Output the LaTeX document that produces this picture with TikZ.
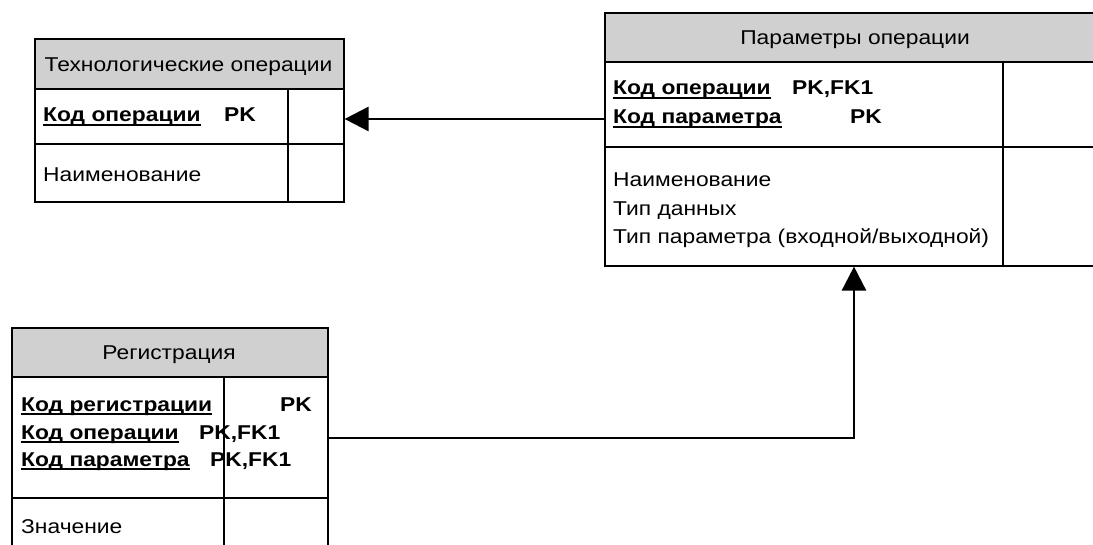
\documentclass[tikz,border=0pt]{standalone}
\usepackage{fontspec}
\setmainfont[FakeStretch=1.14]{Liberation Sans}
\usetikzlibrary{arrows.meta,calc}
\definecolor{hdr}{RGB}{208,208,208}
\newcommand\ulbf[1]{\setbox0\hbox{\bfseries #1}\rlap{\rule[-3.8pt]{\wd0}{2.2pt}}\box0}
\begin{document}
\begin{tikzpicture}[x=1pt,y=-1pt,
  tbl/.style={draw, line width=1.6pt, rectangle, inner sep=0pt, anchor=north west},
  grid/.style={line width=1.6pt},
  txt/.style={anchor=base west, inner sep=0pt, font=\fontsize{20}{24}\selectfont},
  htxt/.style={anchor=base, inner sep=0pt, font=\fontsize{20}{24}\selectfont},
  btxt/.style={txt, font=\fontsize{20}{24}\selectfont\bfseries},
  conn/.style={line width=2.7pt},
  tip/.style={-{Triangle[length=24pt,width=24pt]}},
]
\useasboundingbox (0,0) rectangle (1093,545);
% header fills
\fill[hdr] (34,38) rectangle (343,89);
\fill[hdr] (604,12) rectangle (1106,62);
\fill[hdr] (11,327) rectangle (327,377);
% tables
\node[tbl, minimum width=309pt, minimum height=163pt] (t1) at (34,38) {};
\node[tbl, minimum width=502pt, minimum height=253pt] (t2) at (604,12) {};
\node[tbl, minimum width=316pt, minimum height=240pt] (t3) at (11,327) {};
% internal lines
\draw[grid] (34,89) -- (343,89) (34,144) -- (343,144) (288,89) -- (288,201);
\draw[grid] (604,62) -- (1106,62) (604,147) -- (1106,147) (1003,62) -- (1003,265);
\draw[grid] (11,377) -- (327,377) (11,498) -- (327,498) (224,377) -- (224,567);
% texts table 1
\node[htxt] (h1) at (188.5,72) {Технологические операции};
\node[txt] (a1) at (43,122) {\ulbf{Код операции}};
\node[btxt] (a1k) at (224,122) {PK};
\node[txt] (a2) at (43,182) {Наименование};
% texts table 2
\node[htxt] (h2) at (855,45) {Параметры операции};
\node[txt] (b1) at (613,95) {\ulbf{Код операции}};
\node[btxt] (b1k) at (792,95) {PK,FK1};
\node[txt] (b2) at (613,124) {\ulbf{Код параметра}};
\node[btxt] (b2k) at (850,124) {PK};
\node[txt] (b3) at (613,187) {Наименование};
\node[txt] (b4) at (613,216) {Тип данных};
\node[txt] (b5) at (613,244) {Тип параметра (входной/выходной)};
% texts table 3
\node[htxt] (h3) at (169,360) {Регистрация};
\node[txt] (c1) at (21,411) {\ulbf{Код регистрации}};
\node[btxt] (c1k) at (280,411) {PK};
\node[txt] (c2) at (21,439) {\ulbf{Код операции}};
\node[btxt] (c2k) at (199,439) {PK,FK1};
\node[txt] (c3) at (21,466) {\ulbf{Код параметра}};
\node[btxt] (c3k) at (210,466) {PK,FK1};
\node[txt] (c4) at (21,533) {Значение};
% connectors
\coordinate (lvl) at (0,119);
\draw[conn, tip] (t2.west |- lvl) -- (t1.east |- lvl);
\coordinate (bend) at (854,438);
\draw[conn, tip] (t3.east |- bend) -- (bend) -- (bend |- t2.south);
\end{tikzpicture}
\end{document}
